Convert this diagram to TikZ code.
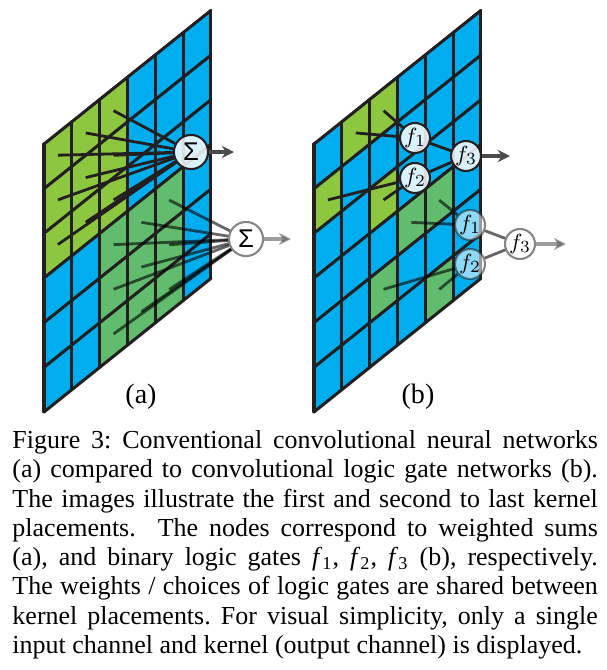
\documentclass[tikz,border=0pt]{standalone}
\usepackage{fontspec}
\setmainfont{Liberation Serif}
\setsansfont{Liberation Sans}
\usetikzlibrary{arrows.meta}

\definecolor{celda}{HTML}{00AEEF}
\definecolor{verdeA}{HTML}{8DC63F}
\definecolor{verdeB}{HTML}{61BC6E}
\definecolor{borde}{HTML}{231F20}

\tikzset{
  plano/.style={shift={(44+#1,144)}, x={(11.41pt,9.13pt)}, y={(0pt,-18.31pt)}},
  rejilla/.style={borde, line width=1.25pt, line cap=round, line join=round},
  peso/.style={borde, line width=1.15pt},
  pesogris/.style={black, opacity=0.6, line width=1.15pt},
  nodo/.style={circle, draw=borde, line width=0.85pt, fill=white, fill opacity=0.85,
    text opacity=1, inner sep=0pt},
  suma/.style={nodo, minimum size=14pt, font=\sffamily\fontsize{10.5}{10}\selectfont},
  puerta/.style={nodo, minimum size=12.3pt, font=\fontsize{9.5}{10}\selectfont},
  tenue/.style={opacity=0.55},
  salida/.style={-{Stealth[length=5pt,width=5pt]}, line width=1.3pt, black!70},
}

\begin{document}
\begin{tikzpicture}[x=0.41pt, y=-0.41pt]
  \useasboundingbox (0,0) rectangle (607,670);

  % Rejillas (a) y (b)
  \foreach \dx/\p in {0/a, 270/b} {
    \begin{scope}[plano=\dx]
      \fill[celda] (0,0) -- (6,0) -- (6,6) -- (0,6) -- cycle;
      \foreach \c in {0,...,5}
        \foreach \r in {0,...,5}
          \coordinate (\p-\c-\r) at (\c+0.5,\r+0.5);
    \end{scope}
  }

  % Colocaciones del kernel (a)
  \begin{scope}[plano=0]
    \foreach \c in {0,1,2}
      \foreach \r in {0,1,2}
        \fill[verdeA] (\c,\r) -- ++(1,0) -- ++(0,1) -- ++(-1,0) -- cycle;
    \foreach \c in {2,3,4}
      \foreach \r in {3,4,5}
        \fill[verdeB] (\c,\r) -- ++(1,0) -- ++(0,1) -- ++(-1,0) -- cycle;
    \foreach \i in {0,...,6} {
      \draw[rejilla] (\i,0) -- (\i,6);
      \draw[rejilla] (0,\i) -- (6,\i);
    }
  \end{scope}

  % Colocaciones del kernel (b)
  \begin{scope}[plano=270]
    \foreach \c/\r in {1/0, 2/0, 0/1, 2/2}
      \fill[verdeA] (\c,\r) -- ++(1,0) -- ++(0,1) -- ++(-1,0) -- cycle;
    \foreach \c/\r in {3/3, 4/3, 2/4, 4/5}
      \fill[verdeB] (\c,\r) -- ++(1,0) -- ++(0,1) -- ++(-1,0) -- cycle;
    \foreach \i in {0,...,6} {
      \draw[rejilla] (\i,0) -- (\i,6);
      \draw[rejilla] (0,\i) -- (6,\i);
    }
  \end{scope}

  % Sumas ponderadas (a)
  \node[suma] (sumP) at (191,152) {Σ};
  \node[suma, tenue] (sumS) at (246,239) {Σ};
  \foreach \c in {0,1,2}
    \foreach \r in {0,1,2}
      \draw[peso] (a-\c-\r) -- (sumP);
  \foreach \c in {2,3,4}
    \foreach \r in {3,4,5}
      \draw[pesogris] (a-\c-\r) -- (sumS);

  % Puertas logicas (b)
  \node[puerta] (f1P) at (415,138) {$f_1$};
  \node[puerta] (f2P) at (415,178) {$f_2$};
  \node[puerta] (f3P) at (466,156) {$f_3$};
  \node[puerta, tenue] (f1S) at (470,225) {$f_1$};
  \node[puerta, tenue] (f2S) at (470,264) {$f_2$};
  \node[puerta, tenue] (f3S) at (520,244) {$f_3$};
  \draw[peso] (b-1-0) -- (f1P);
  \draw[peso] (b-2-0) -- (f1P);
  \draw[peso] (b-0-1) -- (f2P);
  \draw[peso] (b-2-2) -- (f2P);
  \draw[peso] (f1P) -- (f3P);
  \draw[peso] (f2P) -- (f3P);
  \draw[pesogris] (b-3-3) -- (f1S);
  \draw[pesogris] (b-4-3) -- (f1S);
  \draw[pesogris] (b-2-4) -- (f2S);
  \draw[pesogris] (b-4-5) -- (f2S);
  \draw[pesogris] (f1S) -- (f3S);
  \draw[pesogris] (f2S) -- (f3S);

  % Salidas
  \coordinate (outA1) at (234,152);
  \coordinate (outA2) at (291,239);
  \coordinate (outB1) at (510,156);
  \coordinate (outB2) at (566,244);
  \draw[salida] (sumP) -- (outA1);
  \draw[salida, tenue] (sumS) -- (outA2);
  \draw[salida] (f3P) -- (outB1);
  \draw[salida, tenue] (f3S) -- (outB2);

  % Etiquetas
  \node[font=\fontsize{11.5}{13}\selectfont] (labA) at (141,397) {(a)};
  \node[font=\fontsize{11.5}{13}\selectfont] (labB) at (418,397) {(b)};

  % Pie de figura
  \node[anchor=north west, inner sep=0pt, text width=240pt, align=justify,
    font=\fontsize{10.65}{12}\selectfont\frenchspacing] (pie) at (12,430) {%
    \parfillskip=0pt plus 1fil
    Figure 3: Conventional convolutional neural networks\linebreak
    (a) compared to convolutional logic gate networks (b).\linebreak
    The images illustrate the first and second to last kernel\linebreak
    placements.\ \ The nodes correspond to weighted sums\linebreak
    (a), and binary logic gates \textit{f}\textsubscript{1}, \textit{f}\textsubscript{2}, \textit{f}\textsubscript{3} (b), respectively.\linebreak
    The weights / choices of logic gates are shared between\linebreak
    kernel placements. For visual simplicity, only a single\linebreak
    input channel and kernel (output channel) is displayed.};
\end{tikzpicture}
\end{document}
